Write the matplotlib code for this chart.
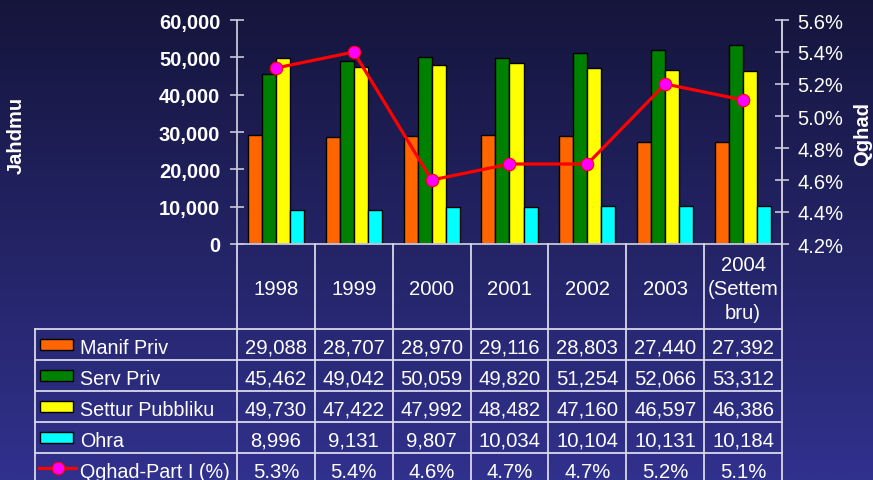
import matplotlib
matplotlib.use("Agg")
import matplotlib.pyplot as plt
import numpy as np
from matplotlib.colors import LinearSegmentedColormap
from matplotlib.ticker import FuncFormatter, MultipleLocator
from matplotlib.patches import Rectangle

plt.rcParams['font.family'] = ['Liberation Sans', 'DejaVu Sans']

# ---- data ----
years = ['1998', '1999', '2000', '2001', '2002', '2003', '2004\n(Settem\nbru)']
series_names = ['Manif Priv', 'Serv Priv', 'Settur Pubbliku', 'Ohra']
manif = [29088, 28707, 28970, 29116, 28803, 27440, 27392]
serv = [45462, 49042, 50059, 49820, 51254, 52066, 53312]
pubbliku = [49730, 47422, 47992, 48482, 47160, 46597, 46386]
ohra = [8996, 9131, 9807, 10034, 10104, 10131, 10184]
line_name = 'Qghad-Part I (%)'
qghad = [5.3, 5.4, 4.6, 4.7, 4.7, 5.2, 5.1]

colors = ['#FF6600', '#008000', '#FFFF00', '#00FFFF']
W, H = 873, 481
fig = plt.figure(figsize=(W / 100, H / 100), dpi=100)

# background gradient
bg = fig.add_axes([0, 0, 1, 1], zorder=-10)
cmap = LinearSegmentedColormap.from_list('bg', ['#31318e', '#15153c'])
grad = np.linspace(0, 1, 256).reshape(-1, 1)
bg.imshow(grad, aspect='auto', cmap=cmap, extent=[0, 1, 0, 1], origin='lower')
bg.axis('off')

# ---- main chart ----
ax = fig.add_axes([237 / W, (H - 245) / H, (782 - 237) / W, (245 - 21) / H])
ax.set_facecolor('none')
x = np.arange(len(years))
bw = 0.18
all_series = [manif, serv, pubbliku, ohra]
for i, (vals, c) in enumerate(zip(all_series, colors)):
    ax.bar(x + (i - 1.5) * bw, vals, width=bw, color=c, edgecolor='black', linewidth=1.0, zorder=2)
ax.set_xlim(-0.5, len(years) - 0.5)
ax.set_ylim(0, 60000)
ax.yaxis.set_major_locator(MultipleLocator(10000))
ax.yaxis.set_major_formatter(FuncFormatter(lambda v, p: f'{int(v):,}'))
ax.set_xticks([])
spine_c = '#c8c8d8'
ax.spines['top'].set_visible(False)
for s in ['left', 'right', 'bottom']:
    ax.spines[s].set_color(spine_c)
    ax.spines[s].set_linewidth(1.3)
ax.tick_params(axis='y', direction='inout', length=10, width=1.2, color=spine_c,
               labelcolor='white', labelsize=14.5, pad=7)
for lab in ax.get_yticklabels():
    lab.set_fontweight('bold')

ax2 = ax.twinx()
ax2.set_ylim(4.2, 5.6)
ax2.yaxis.set_major_locator(MultipleLocator(0.2))
ax2.yaxis.set_major_formatter(FuncFormatter(lambda v, p: f'{v:.1f}%'))
ax2.plot(x, qghad, color='#FF0000', linewidth=2.3, marker='o', markersize=9,
         markerfacecolor='#FF00FF', markeredgecolor='#FF0000', markeredgewidth=0.8, zorder=3)
for s in ['top', 'left', 'bottom']:
    ax2.spines[s].set_visible(False)
ax2.spines['right'].set_color(spine_c)
ax2.spines['right'].set_linewidth(1.3)
ax2.tick_params(axis='y', direction='inout', length=10, width=1.2, color=spine_c,
                labelcolor='white', labelsize=14.5, pad=6)

fig.text(16 / W, 1 - 135 / H, 'Jahdmu', rotation=90, color='white', fontsize=14.5,
         fontweight='bold', ha='center', va='center')
fig.text(863 / W, 1 - 134 / H, 'Qghad', rotation=90, color='white', fontsize=14.5,
         fontweight='bold', ha='center', va='center')

# ---- data table ----
tab_top = 245
tab_h = H - tab_top
tax = fig.add_axes([35 / W, 0, (782 - 35) / W, tab_h / H])
left_edge = -0.5 - (237 - 35) / (545 / 7)
tax.set_xlim(left_edge, len(years) - 0.5)
tax.set_ylim(tab_h, 0)
tax.axis('off')
tax.set_facecolor('none')

grid_c = '#d8d8e8'
head_h = 85
row_h = 30.9
n_rows = 5
bottom = head_h + row_h * n_rows
lw = 1.3
fs = 14.6
fs_lab = 14.2
for b in np.arange(-0.5, len(years), 1.0):
    tax.plot([b, b], [0, bottom], color=grid_c, lw=lw, clip_on=False)
tax.plot([left_edge, left_edge], [head_h, bottom], color=grid_c, lw=lw, clip_on=False)
for r in range(n_rows + 1):
    yv = head_h + r * row_h
    tax.plot([left_edge, len(years) - 0.5], [yv, yv], color=grid_c, lw=lw, clip_on=False)

# header
for i, yr in enumerate(years):
    tax.text(i, head_h / 2 + 2, yr, color='white', fontsize=fs, ha='center', va='center',
             linespacing=1.35)

# rows
row_labels = series_names + [line_name]
row_vals = all_series + [qghad]
px = 545 / 7
for r, (lab, vals) in enumerate(zip(row_labels, row_vals)):
    yc = head_h + (r + 0.5) * row_h
    if r < 4:
        tax.add_patch(Rectangle((left_edge + 5 / px, yc - 5.5), 33 / px, 11,
                                facecolor=colors[r], edgecolor='black', lw=1.0, clip_on=False))
    else:
        tax.plot([left_edge + 4 / px, left_edge + 41 / px], [yc, yc], color='#FF0000', lw=2.3,
                 clip_on=False)
        tax.plot([left_edge + 22.5 / px], [yc], marker='o', markersize=9, markerfacecolor='#FF00FF',
                 markeredgecolor='#FF0000', markeredgewidth=0.8, clip_on=False)
    tax.text(left_edge + 45 / px, yc + 3, lab, color='white', fontsize=fs_lab, ha='left', va='center')
    for i, v in enumerate(vals):
        txt = f'{v:.1f}%' if r == 4 else f'{v:,}'
        tax.text(i, yc + 3, txt, color='white', fontsize=fs, ha='center', va='center')

fig.savefig('out.png', dpi=100)
